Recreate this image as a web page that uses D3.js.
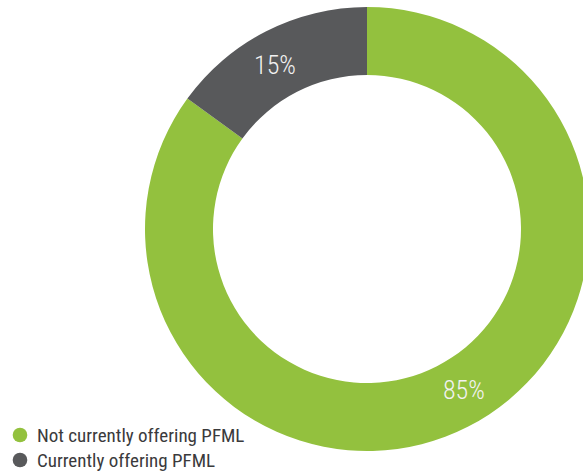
<!DOCTYPE html>
<html>
<head>
<meta charset="utf-8">
<script src="https://cdn.jsdelivr.net/npm/d3@7"></script>
<style>
  body { margin: 0; background: #fff; }
  text { font-family: "Roboto Condensed", "Liberation Sans Narrow", "DejaVu Sans Condensed", sans-serif; }
</style>
</head>
<body>
<div id="chart"></div>
<script>
const categories = ["Not currently offering PFML", "Currently offering PFML"];
const values = [85, 15];
const labels = ["85%", "15%"];
const colors = ["#93c13e", "#58595b"];

const width = 583;
const height = 474;
const cx = 367, cy = 229;
const outerR = 222, innerR = 154;

const svg = d3.select("#chart")
  .append("svg")
  .attr("width", width)
  .attr("height", height);

const pie = d3.pie().sort(null).value(d => d);
const arc = d3.arc().innerRadius(innerR).outerRadius(outerR);

const g = svg.append("g")
  .attr("transform", `translate(${cx},${cy})`);

const arcs = pie(values);

g.selectAll("path")
  .data(arcs)
  .enter()
  .append("path")
  .attr("d", arc)
  .attr("fill", (d, i) => colors[i]);

// labels sit near the centroid, the big one nudged a bit toward the end of its arc
const labelArc = d3.arc().innerRadius(innerR).outerRadius(outerR);
const nudge = [-0.07, -0.04];

g.selectAll(".label")
  .data(arcs)
  .enter()
  .append("text")
  .attr("class", "label")
  .attr("transform", (d, i) => {
    const c = labelArc.centroid({
      startAngle: d.startAngle + nudge[i],
      endAngle: d.endAngle + nudge[i]
    });
    return `translate(${c[0]},${c[1]})`;
  })
  .attr("text-anchor", "middle")
  .attr("dy", "0.35em")
  .attr("fill", "#f2f2f2")
  .attr("font-size", 26)
  .attr("font-weight", 300)
  .text((d, i) => labels[i]);

const legend = svg.append("g")
  .attr("transform", "translate(20,435)");

const item = legend.selectAll("g")
  .data(categories)
  .enter()
  .append("g")
  .attr("transform", (d, i) => `translate(0,${i * 25})`);

item.append("circle")
  .attr("r", 7.3)
  .attr("fill", (d, i) => colors[i]);

item.append("text")
  .attr("x", 17)
  .attr("dy", "0.36em")
  .attr("font-size", 19)
  .attr("fill", "#3a3a3c")
  .text(d => d);
</script>
</body>
</html>
